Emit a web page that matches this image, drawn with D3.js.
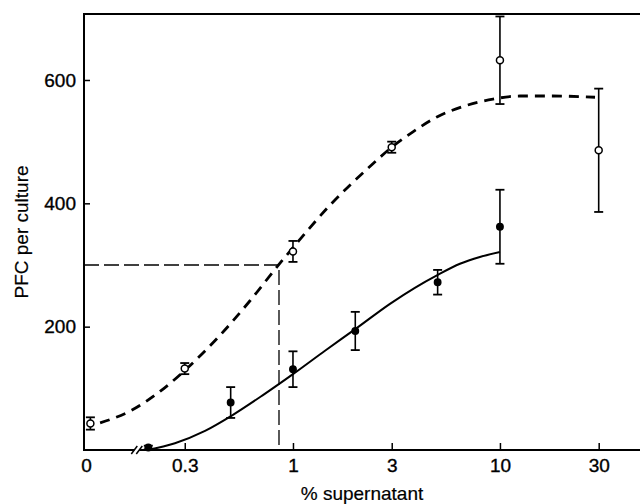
<!DOCTYPE html>
<html><head><meta charset="utf-8">
<script src="https://cdn.jsdelivr.net/npm/d3@7"></script>
<style>html,body{margin:0;padding:0;background:#fff}svg{display:block}</style>
</head><body>
<script>
// ---- data ----
const openX   = [0, 0.3, 1, 3, 10, 30];
const openY   = [43, 132, 322, 491, 632, 486];
const openErr = [10, 9, 17, 9, 71, 100];

const filledX   = [0.2, 0.5, 1, 2, 5, 10];
const filledY   = [4, 77, 131, 193, 272, 362];
const filledErr = [3, 25, 29, 31, 20, 60];

const dashedCurveX = [0.117, 0.163, 0.228, 0.3, 0.444, 0.62, 0.856, 1, 1.51, 2.36, 3, 3.8, 4.96, 6.63, 9.26, 12.5, 18, 28.8];
const dashedCurveY = [44, 63, 95, 129, 186, 242, 301, 328, 397, 460, 491, 516, 540, 557, 569, 574, 574, 572];

const solidCurveX = [0.197, 0.269, 0.376, 0.513, 0.716, 1, 1.428, 2.038, 2.942, 3.88, 5.01, 6.41, 8.0, 10];
const solidCurveY = [0, 11, 31, 57, 89, 123, 161, 198, 237, 263, 284, 302, 313, 321];

const xTickValues = [0, 0.3, 1, 3, 10, 30];
const xTickLabels = ["0", "0.3", "1", "3", "10", "30"];
const yTickValues = [200, 400, 600];
const yTickLabels = ["200", "400", "600"];

const refX = 0.856, refY = 300;   // dashed guide lines
const zeroTickAt = 0.1;           // where "0" sits on the broken log axis
const zeroDataAt = 0.105;
const breakAt = 0.175;

const W = 640, H = 504;
const svg = d3.select("body").append("svg").attr("width", W).attr("height", H);

const x = d3.scaleLog().domain([0.1, 47.5]).range([86, 640]);
const y = d3.scaleLinear().domain([0, 707]).range([450, 14]);
const left = 84;
const FONT = "'Liberation Sans', Arial, Helvetica, sans-serif";

const px = v => x(v === 0 ? zeroDataAt : v);

// frame lines
const frame = svg.append("g").attr("stroke", "#000").attr("stroke-width", 2).attr("fill", "none");
frame.append("line").attr("x1", left).attr("x2", W).attr("y1", y(707)).attr("y2", y(707));
frame.append("line").attr("x1", left).attr("x2", left).attr("y1", y(707) - 1).attr("y2", y(0) + 1);
// bottom axis with break
const bx = x(breakAt);
frame.append("line").attr("x1", left).attr("x2", bx - 2).attr("y1", y(0)).attr("y2", y(0));
frame.append("line").attr("x1", bx + 3).attr("x2", W).attr("y1", y(0)).attr("y2", y(0));
[-2, 3].forEach(o => {
  frame.append("line").attr("x1", bx + o - 3).attr("y1", y(0) + 4)
       .attr("x2", bx + o + 3).attr("y2", y(0) - 4).attr("stroke-width", 1.5);
});

// axes (ticks and labels)
const xAxis = d3.axisBottom(x)
  .tickValues(xTickValues.map(v => v === 0 ? zeroTickAt : v))
  .tickFormat((d, i) => xTickLabels[i])
  .tickSize(-7).tickPadding(9);
const gx = svg.append("g").attr("transform", `translate(0,${y(0)})`).call(xAxis);
gx.select(".domain").remove();
gx.selectAll(".tick line").attr("stroke-width", 1.5).filter((d, i) => i === 0).remove();
gx.selectAll("text").attr("font-family", FONT).attr("font-size", 19).attr("fill", "#000")
  .attr("stroke", "#000").attr("stroke-width", 0.35);

const yAxis = d3.axisLeft(y).tickValues(yTickValues)
  .tickFormat((d, i) => yTickLabels[i]).tickSize(-6).tickPadding(8);
const gy = svg.append("g").attr("transform", `translate(${left},0)`).call(yAxis);
gy.select(".domain").remove();
gy.selectAll(".tick line").attr("stroke-width", 1.5);
gy.selectAll("text").attr("font-family", FONT).attr("font-size", 19).attr("fill", "#000")
  .attr("stroke", "#000").attr("stroke-width", 0.35);

// axis titles
svg.append("text").attr("x", 362).attr("y", 500).attr("text-anchor", "middle")
  .attr("font-family", FONT).attr("font-size", 19).attr("stroke", "#000").attr("stroke-width", 0.2)
  .text("% supernatant");
svg.append("text").attr("transform", `translate(28,232) rotate(-90)`).attr("text-anchor", "middle")
  .attr("font-family", FONT).attr("font-size", 19).attr("stroke", "#000").attr("stroke-width", 0.2)
  .text("PFC per culture");

// guide lines
svg.append("path")
  .attr("d", `M${left},${y(refY)}H${x(refX)}V${y(0)}`)
  .attr("fill", "none").attr("stroke", "#000").attr("stroke-width", 1.3)
  .attr("stroke-dasharray", "15,5");

// curves
const line = d3.line().x(d => x(d[0])).y(d => y(d[1])).curve(d3.curveMonotoneX);
svg.append("path").datum(dashedCurveX.map((v, i) => [v, dashedCurveY[i]]))
  .attr("d", line).attr("fill", "none").attr("stroke", "#000")
  .attr("stroke-width", 2.8).attr("stroke-dasharray", "10,7");
svg.append("path").datum(solidCurveX.map((v, i) => [v, solidCurveY[i]]))
  .attr("d", line).attr("fill", "none").attr("stroke", "#000").attr("stroke-width", 2);

// error bars + markers
function drawSeries(xs, ys, errs, filled) {
  const g = svg.append("g");
  xs.forEach((v, i) => {
    const cx = px(v), top = y(ys[i] + errs[i]), bot = y(Math.max(0, ys[i] - errs[i]));
    g.append("line").attr("x1", cx).attr("x2", cx).attr("y1", top).attr("y2", bot)
      .attr("stroke", "#000").attr("stroke-width", 1.6);
    [top, bot].forEach(yy => g.append("line").attr("x1", cx - 4.5).attr("x2", cx + 4.5)
      .attr("y1", yy).attr("y2", yy).attr("stroke", "#000").attr("stroke-width", 1.8));
    g.append("circle").attr("cx", cx).attr("cy", y(ys[i]))
      .attr("r", filled ? 3.2 : 3.5)
      .attr("fill", filled ? "#000" : "#fff").attr("stroke", "#000").attr("stroke-width", 1.5);
  });
}
drawSeries(openX, openY, openErr, false);
drawSeries(filledX, filledY, filledErr, true);
</script>
</body></html>
